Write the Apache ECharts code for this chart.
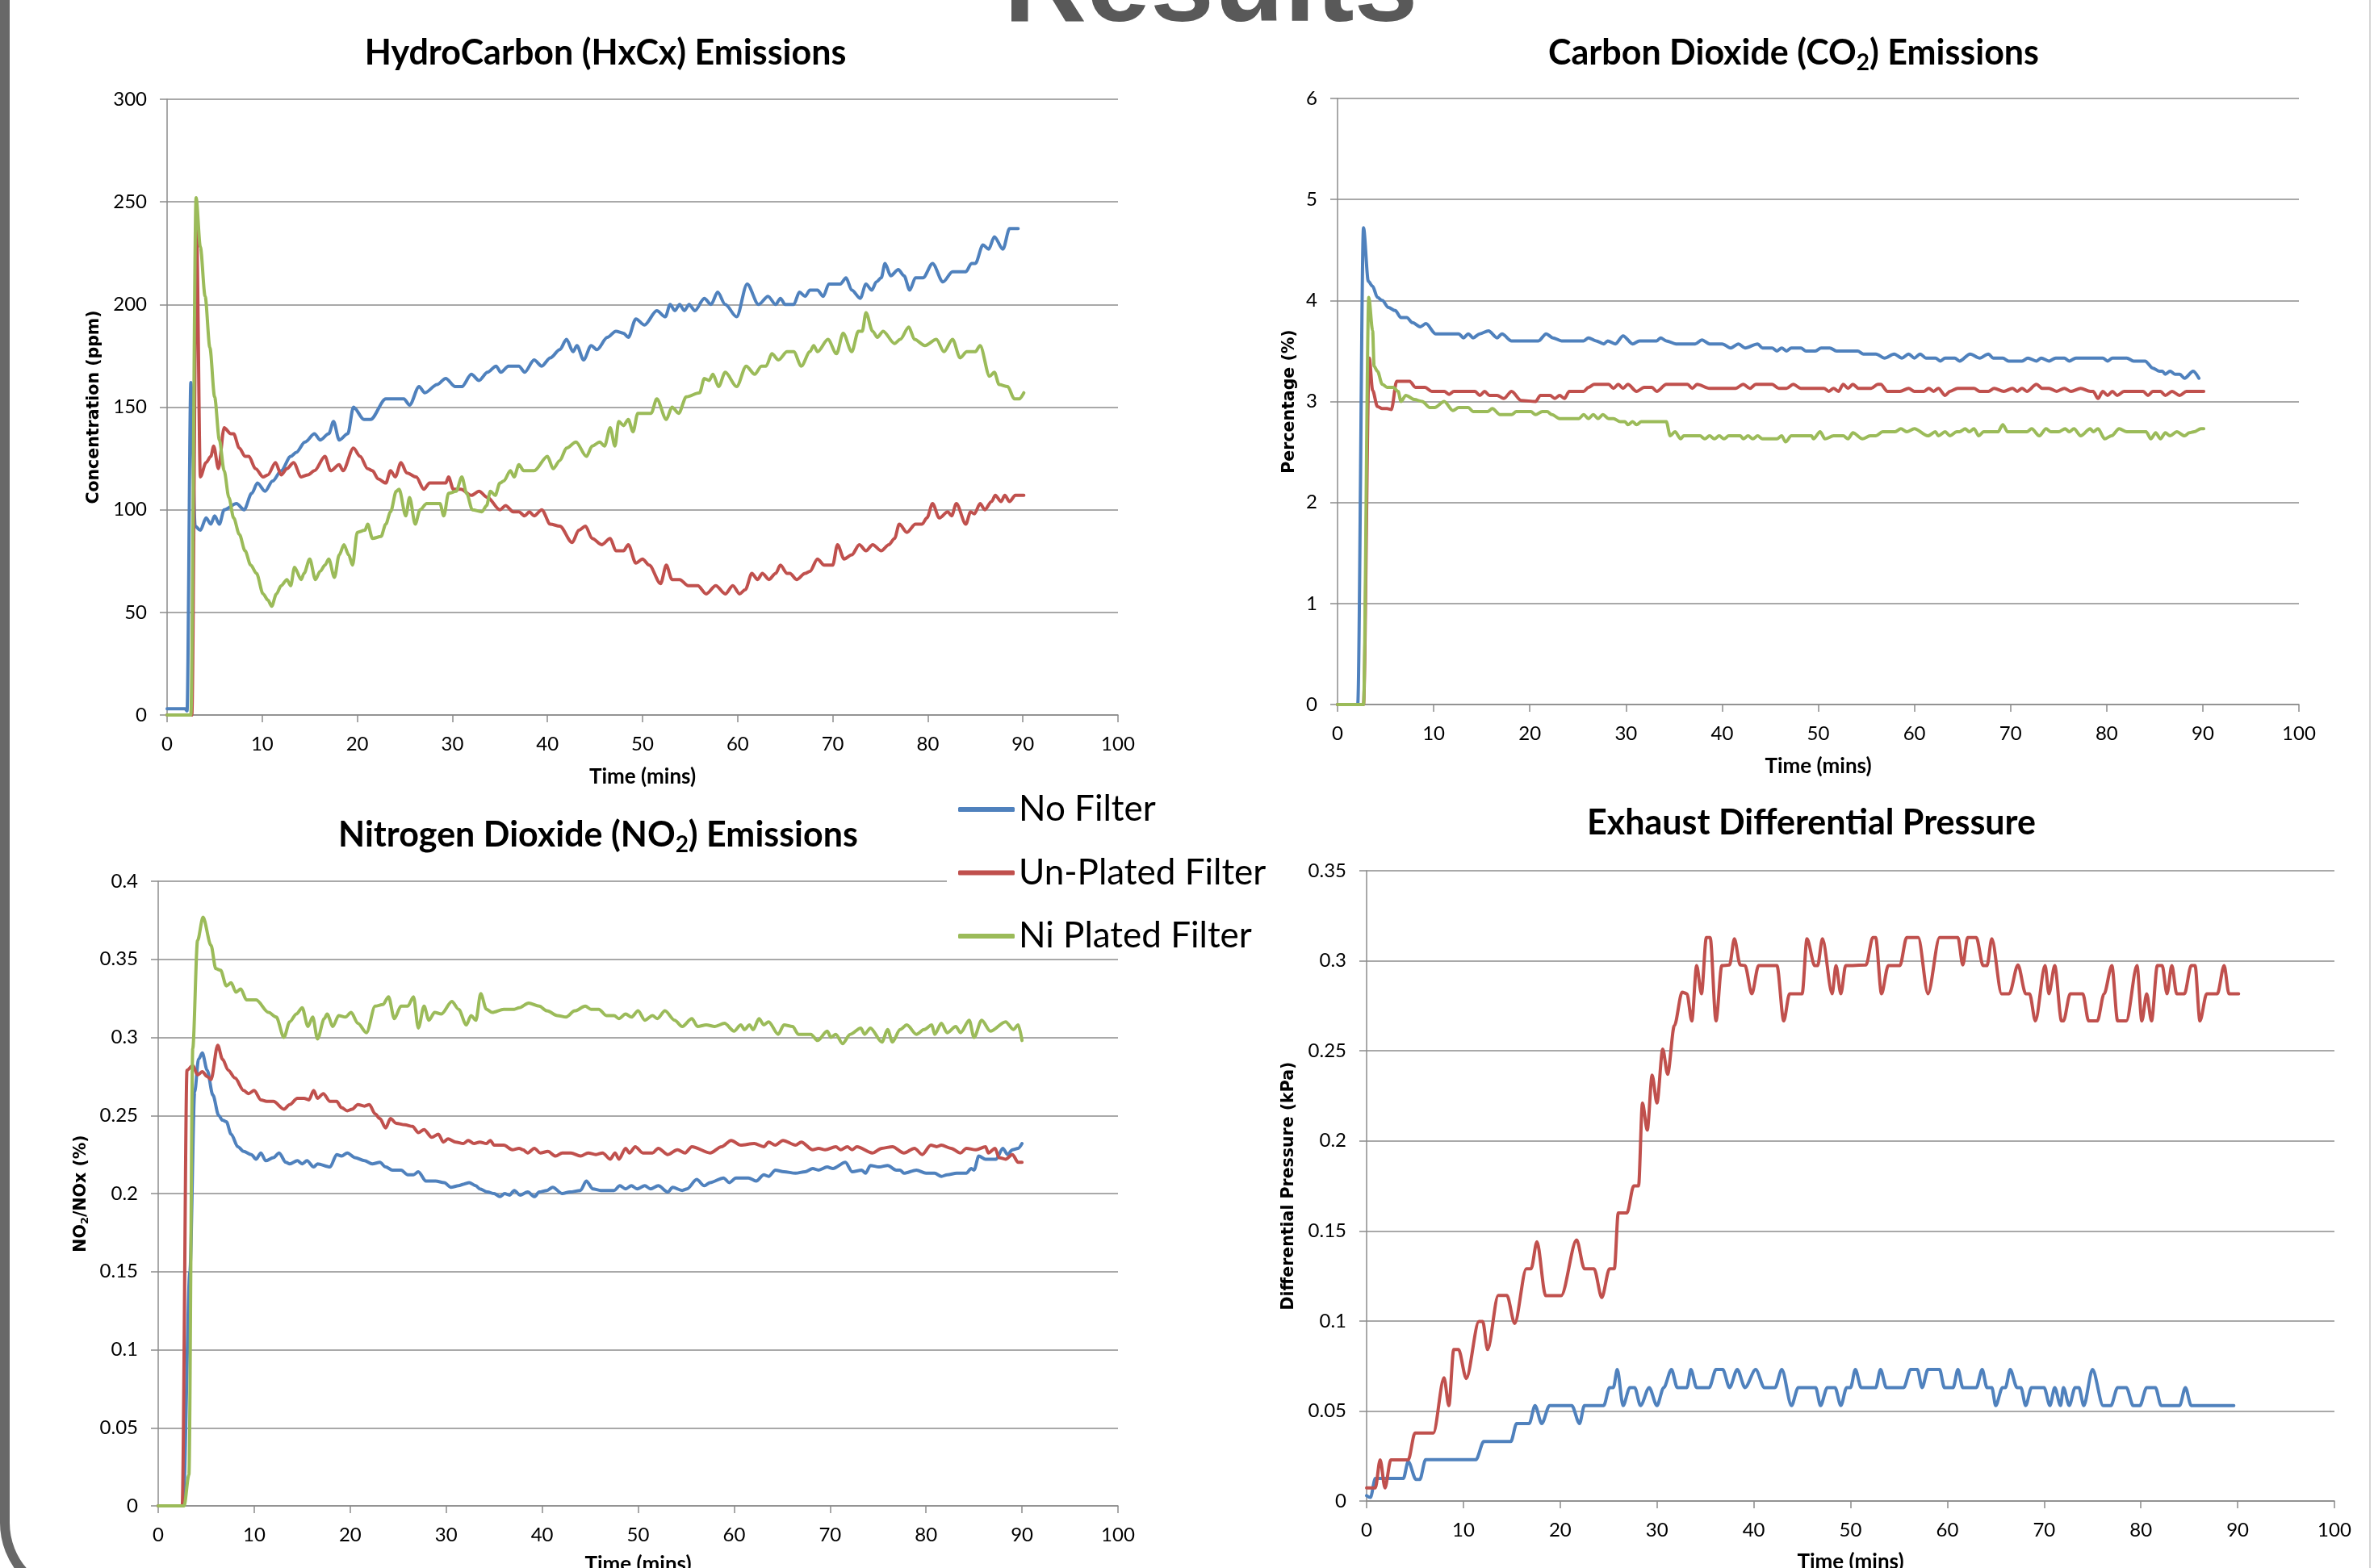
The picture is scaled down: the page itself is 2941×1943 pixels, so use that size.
<!DOCTYPE html>
<html>
<head>
<meta charset="utf-8">
<script src="https://cdn.jsdelivr.net/npm/echarts@6/dist/echarts.min.js"></script>
<style>
html,body{margin:0;padding:0;background:#fff;}
#c{width:2941px;height:1943px;}
</style>
</head>
<body>
<div id="c"></div>
<script>
// ---------- DATA (time in minutes, value) ----------
const seriesNames = ['No Filter', 'Un-Plated Filter', 'Ni Plated Filter'];
const xTicks = [0, 100, 10];           // min, max, interval (Time (mins))
const hcYTicks = [0, 300, 50];
const co2YTicks = [0, 6, 1];
const no2YTicks = [0, 0.4, 0.05];
const dpYTicks = [0, 0.35, 0.05];

const hcNoFilter = [[0,3],[1.9,3],[2.1,2],[2.5,162],[2.95,92],[3.5,90],[4.1,96],[4.6,93],[5.0,97],[5.5,93],[6.0,100],[7.3,103],[8.1,100],[8.9,108],[9.5,113],[10.3,109],[11.1,114],[12.0,119],[13.0,126],[13.6,128],[14.5,133],[15.5,137],[16.1,134],[17.0,137],[17.5,143],[18.1,134],[19.0,137],[19.6,150],[20.7,144],[21.4,144],[23.0,154],[24.9,154],[25.5,151],[26.5,160],[27.1,157],[28.4,161],[29.3,164],[30.3,160],[31.0,160],[32.0,166],[32.8,163],[33.7,167],[34.6,170],[35.1,167],[35.9,170],[37.0,170],[37.6,167],[38.6,173],[39.4,170],[40.3,174],[41.3,178],[42.0,183],[42.7,177],[43.1,180],[43.8,173],[44.6,180],[45.2,178],[46.3,184],[47.2,187],[48.0,186],[48.5,184],[49.3,193],[50.2,190],[51.5,197],[52.4,194],[52.9,200],[53.4,197],[53.9,200],[54.4,197],[54.9,200],[55.5,197],[56.5,203],[57.2,200],[57.9,206],[58.7,200],[59.9,194],[61.0,210],[62.2,200],[63.2,204],[64.0,200],[64.5,203],[65.0,200],[65.9,200],[66.5,206],[67.1,204],[67.6,207],[68.4,207],[69.0,204],[69.6,210],[70.8,210],[71.4,213],[72.0,207],[72.9,203],[73.5,210],[74.1,207],[74.6,211],[75.1,213],[75.5,220],[76.1,214],[76.9,217],[77.5,214],[78.1,207],[78.7,213],[79.5,213],[80.5,220],[81.6,211],[82.6,216],[84.0,216],[84.6,220],[85.0,220],[85.8,229],[86.4,227],[87.0,233],[87.9,227],[88.6,237],[89.5,237]];
const hcUnPlated = [[0,0],[2.6,0],[3.1,236],[3.5,116],[4.1,123],[4.6,126],[4.9,131],[5.4,120],[6.0,140],[6.7,137],[7.0,137],[7.6,130],[8.2,126],[8.6,126],[9.3,120],[10.1,116],[10.6,117],[11.4,123],[12.0,117],[12.6,120],[13.3,123],[14.1,116],[14.8,117],[15.5,119],[16.6,126],[17.2,119],[18.1,122],[18.5,119],[19.6,130],[20.3,126],[21.1,120],[21.6,119],[22.2,115],[23.0,113],[23.5,119],[24.0,116],[24.6,123],[25.2,118],[26.2,116],[27.0,110],[27.6,113],[29.3,113],[29.6,116],[30.1,110],[30.9,110],[32.0,107],[32.8,109],[33.7,106],[35.0,100],[35.6,102],[36.4,99],[37.0,99],[37.6,97],[38.1,99],[38.6,97],[39.4,100],[40.3,93],[41.3,92],[42.6,84],[43.3,90],[44.0,92],[44.7,86],[45.7,83],[46.6,86],[47.2,80],[48.0,80],[48.5,83],[49.3,74],[50.0,76],[50.7,73],[51.9,64],[52.5,73],[53.1,66],[53.9,66],[54.8,63],[55.8,63],[56.7,59],[57.7,63],[58.7,59],[59.5,63],[60.2,59],[60.8,61],[61.5,69],[62.1,66],[62.6,69],[63.3,66],[64.0,69],[64.5,73],[65.2,69],[65.5,69],[66.2,66],[67.1,69],[67.6,70],[68.4,76],[69.1,73],[70.0,73],[70.5,83],[71.2,76],[72.0,78],[72.8,83],[73.5,80],[74.2,83],[75.1,80],[75.9,83],[76.5,86],[77.0,93],[77.8,89],[78.7,93],[79.4,93],[79.9,96],[80.5,103],[81.2,96],[82.1,99],[82.5,97],[83.0,103],[84.0,93],[84.5,99],[84.9,98],[85.5,103],[86.0,100],[86.7,104],[87.1,107],[87.7,104],[88.1,107],[88.6,104],[89.2,107],[90.1,107]];
const hcNiPlated = [[0,0],[2.5,0],[3.05,252],[3.5,228],[4.0,204],[4.5,179],[5.0,155],[5.5,134],[6.0,119],[6.5,106],[7.0,96],[7.6,88],[8.2,80],[8.8,73],[9.4,69],[10.1,59],[10.6,56],[11.0,53],[11.5,59],[12.0,63],[12.6,66],[13.0,63],[13.4,72],[14.1,66],[14.4,69],[15.0,76],[15.6,66],[16.1,70],[16.6,73],[17.0,76],[17.6,67],[18.1,78],[18.6,83],[19.1,78],[19.5,73],[20.0,89],[20.8,90],[21.1,93],[21.6,86],[22.5,87],[23.0,93],[23.5,99],[24.1,109],[24.4,110],[25.1,97],[25.5,106],[26.1,93],[26.6,100],[27.3,103],[28.7,103],[29.1,97],[29.6,108],[30.4,109],[31.0,116],[31.5,108],[32.1,100],[33.1,99],[33.6,102],[34.0,109],[34.5,107],[35.0,113],[35.4,114],[36.1,119],[36.5,116],[37.0,122],[37.5,119],[38.6,119],[40.0,126],[40.6,120],[41.3,124],[42.0,130],[43.0,133],[44.1,126],[44.7,131],[45.5,133],[46.0,131],[46.6,140],[47.1,131],[47.5,143],[48.0,141],[48.5,144],[49.0,138],[49.5,147],[50.9,147],[51.5,154],[52.5,144],[53.1,150],[53.8,147],[54.6,155],[56.0,157],[56.5,164],[57.0,163],[57.4,166],[58.0,160],[58.7,167],[59.9,160],[60.9,170],[61.8,166],[62.5,170],[63.0,170],[63.6,176],[64.3,173],[65.2,177],[65.9,177],[66.7,170],[67.6,177],[68.0,180],[68.4,177],[69.5,183],[70.4,176],[71.1,186],[72.0,177],[72.7,187],[73.1,187],[73.5,196],[74.2,187],[74.7,184],[75.3,187],[76.5,181],[77.1,183],[78.0,189],[78.6,183],[79.7,180],[80.9,183],[81.7,177],[82.6,183],[83.4,174],[84.1,177],[85.0,177],[85.5,180],[86.5,165],[87.0,167],[87.5,161],[88.4,160],[89.1,154],[89.6,154],[90.1,157]];

const co2NoFilter = [[0,0],[2.1,0],[2.7,4.72],[3.2,4.19],[3.65,4.14],[4.15,4.03],[4.65,4.0],[5.3,3.93],[6.0,3.9],[6.6,3.83],[7.2,3.83],[7.8,3.78],[8.6,3.74],[9.2,3.77],[10.2,3.67],[12.6,3.67],[13.1,3.63],[13.6,3.67],[14.1,3.63],[14.8,3.67],[15.7,3.7],[16.6,3.63],[17.1,3.67],[18.1,3.6],[20.9,3.6],[21.7,3.67],[22.4,3.63],[23.3,3.6],[25.6,3.6],[26.1,3.63],[26.9,3.6],[27.7,3.57],[28.1,3.6],[28.9,3.57],[29.7,3.65],[30.7,3.57],[31.4,3.6],[33.2,3.6],[33.6,3.63],[34.2,3.6],[35.2,3.57],[37.2,3.57],[37.9,3.61],[38.7,3.57],[40.0,3.57],[40.9,3.53],[41.7,3.57],[42.4,3.53],[43.7,3.57],[44.2,3.53],[45.2,3.53],[45.7,3.5],[46.2,3.53],[46.7,3.5],[47.2,3.53],[48.2,3.53],[48.7,3.5],[49.7,3.5],[50.3,3.53],[51.2,3.53],[51.9,3.5],[54.1,3.5],[54.7,3.47],[56.0,3.47],[56.9,3.43],[57.9,3.47],[58.7,3.43],[59.4,3.47],[60.0,3.43],[60.6,3.47],[61.2,3.43],[62.2,3.43],[62.7,3.4],[63.2,3.43],[64.2,3.43],[64.7,3.4],[65.8,3.47],[66.8,3.43],[67.7,3.47],[68.2,3.43],[69.2,3.43],[69.8,3.4],[71.2,3.4],[71.8,3.43],[72.7,3.4],[73.2,3.43],[74.0,3.4],[74.7,3.43],[75.6,3.43],[76.1,3.4],[76.8,3.43],[79.6,3.43],[80.1,3.4],[80.6,3.43],[82.1,3.43],[82.8,3.4],[84.0,3.4],[84.8,3.33],[85.5,3.3],[85.8,3.3],[86.1,3.27],[86.6,3.3],[87.1,3.27],[87.6,3.27],[88.1,3.23],[89.0,3.3],[89.6,3.23]];
const co2UnPlated = [[0,0],[2.7,0],[3.3,3.43],[3.65,3.11],[4.15,2.95],[4.65,2.93],[5.15,2.93],[5.6,2.92],[6.15,3.2],[7.5,3.2],[8.1,3.14],[9.1,3.14],[9.8,3.1],[11.1,3.1],[11.6,3.07],[12.1,3.1],[14.3,3.1],[14.8,3.06],[15.3,3.1],[15.8,3.06],[16.6,3.06],[17.3,3.03],[18.1,3.1],[19.1,3.01],[20.6,3.0],[21.1,3.06],[22.1,3.06],[22.6,3.03],[23.1,3.06],[23.6,3.03],[24.1,3.1],[25.6,3.1],[26.1,3.14],[26.7,3.17],[28.2,3.17],[28.7,3.13],[29.2,3.17],[29.7,3.13],[30.2,3.17],[31.1,3.1],[31.9,3.14],[32.7,3.14],[33.2,3.1],[34.2,3.17],[36.4,3.17],[36.9,3.13],[37.4,3.17],[38.7,3.13],[41.4,3.13],[42.2,3.17],[42.9,3.13],[43.5,3.17],[45.2,3.17],[45.9,3.13],[46.7,3.13],[47.4,3.17],[48.2,3.13],[50.6,3.13],[51.1,3.1],[51.6,3.13],[52.1,3.1],[52.6,3.17],[53.1,3.13],[53.6,3.17],[54.2,3.13],[55.5,3.13],[56.2,3.17],[56.5,3.17],[57.2,3.1],[58.5,3.1],[59.4,3.13],[60.0,3.1],[61.0,3.1],[61.5,3.13],[62.0,3.1],[62.5,3.13],[63.2,3.06],[63.7,3.1],[64.5,3.13],[66.2,3.13],[66.8,3.1],[67.7,3.1],[68.3,3.13],[69.3,3.1],[70.2,3.13],[70.7,3.1],[71.2,3.13],[71.7,3.1],[72.7,3.17],[73.3,3.13],[74.0,3.13],[74.8,3.1],[75.6,3.13],[76.3,3.1],[77.3,3.13],[78.3,3.1],[78.6,3.1],[79.1,3.03],[79.6,3.1],[80.1,3.06],[80.6,3.1],[81.1,3.06],[81.8,3.1],[83.8,3.1],[84.3,3.06],[84.8,3.1],[85.6,3.1],[86.1,3.06],[86.8,3.1],[87.6,3.06],[88.3,3.1],[90.1,3.1]];
const co2NiPlated = [[0,0],[2.7,0],[3.25,4.03],[3.65,3.7],[3.8,3.35],[4.15,3.3],[4.65,3.17],[5.15,3.14],[5.8,3.14],[6.3,3.1],[6.6,3.0],[7.1,3.06],[8.0,3.02],[8.8,3.0],[9.6,2.94],[10.1,2.94],[11.1,3.0],[12.0,2.91],[12.6,2.94],[13.6,2.94],[14.1,2.9],[15.6,2.9],[16.1,2.93],[16.9,2.87],[18.1,2.87],[18.6,2.9],[20.1,2.9],[20.6,2.87],[21.3,2.9],[21.8,2.9],[22.3,2.87],[23.1,2.83],[25.1,2.83],[25.6,2.87],[26.1,2.83],[26.6,2.87],[27.1,2.83],[27.6,2.87],[28.2,2.83],[28.7,2.83],[29.4,2.8],[29.9,2.8],[30.2,2.77],[30.7,2.8],[31.1,2.77],[31.6,2.8],[34.2,2.8],[34.6,2.66],[35.1,2.7],[35.7,2.63],[36.0,2.66],[37.7,2.66],[38.2,2.63],[38.7,2.66],[39.2,2.63],[39.7,2.66],[40.2,2.63],[40.7,2.66],[41.9,2.66],[42.2,2.63],[42.7,2.66],[43.2,2.63],[43.7,2.66],[44.2,2.63],[45.7,2.63],[46.2,2.66],[46.6,2.6],[47.2,2.66],[49.3,2.66],[49.5,2.63],[50.2,2.7],[50.7,2.63],[51.6,2.66],[52.6,2.66],[53.1,2.63],[53.6,2.69],[54.6,2.63],[55.4,2.66],[56.0,2.66],[56.7,2.7],[58.0,2.7],[58.6,2.73],[59.2,2.7],[60.0,2.73],[61.4,2.66],[62.2,2.7],[62.5,2.66],[63.2,2.7],[63.7,2.66],[64.4,2.7],[64.7,2.7],[65.3,2.73],[65.7,2.7],[66.2,2.73],[66.7,2.66],[67.2,2.7],[68.7,2.7],[69.2,2.77],[69.7,2.7],[71.7,2.7],[72.2,2.73],[73.0,2.66],[73.7,2.73],[74.2,2.7],[75.0,2.7],[75.7,2.73],[76.1,2.7],[76.6,2.73],[77.3,2.66],[78.3,2.73],[78.6,2.7],[79.1,2.73],[79.8,2.63],[80.5,2.66],[81.3,2.73],[82.1,2.7],[84.1,2.7],[84.6,2.63],[85.1,2.69],[85.6,2.63],[86.1,2.69],[86.6,2.66],[87.3,2.7],[88.1,2.66],[88.6,2.69],[89.1,2.7],[89.8,2.73],[90.1,2.73]];

const no2NoFilter = [[0,0],[2.6,0],[3.3,0.15],[3.8,0.265],[4.2,0.286],[4.6,0.29],[5.1,0.279],[5.7,0.263],[6.3,0.25],[6.7,0.247],[7.1,0.246],[7.6,0.238],[8.3,0.23],[8.9,0.227],[9.7,0.225],[10.2,0.222],[10.7,0.226],[11.2,0.221],[12.0,0.223],[12.6,0.226],[13.3,0.22],[13.7,0.219],[14.5,0.221],[15.0,0.219],[15.5,0.221],[16.2,0.217],[16.6,0.219],[17.9,0.217],[18.6,0.225],[19.1,0.224],[19.7,0.226],[20.5,0.223],[21.5,0.221],[22.3,0.219],[23.1,0.22],[23.7,0.217],[24.4,0.215],[25.3,0.215],[26.0,0.212],[26.6,0.212],[27.1,0.214],[27.9,0.208],[28.9,0.208],[29.8,0.207],[30.5,0.204],[31.3,0.205],[31.8,0.206],[32.4,0.207],[33.1,0.205],[33.5,0.203],[34.3,0.201],[35.0,0.2],[35.6,0.198],[36.1,0.2],[36.6,0.199],[37.1,0.202],[37.7,0.199],[38.5,0.201],[39.2,0.198],[39.7,0.201],[40.5,0.202],[41.1,0.204],[42.1,0.2],[42.9,0.201],[44.0,0.202],[44.6,0.208],[45.3,0.203],[46.1,0.202],[47.5,0.202],[48.1,0.205],[48.7,0.203],[49.3,0.205],[49.9,0.203],[50.7,0.205],[51.3,0.203],[52.1,0.205],[53.1,0.201],[53.6,0.204],[54.6,0.202],[55.1,0.203],[56.1,0.209],[56.9,0.205],[57.5,0.207],[58.9,0.21],[59.5,0.207],[60.2,0.21],[61.5,0.21],[62.3,0.208],[63.1,0.212],[63.6,0.211],[64.3,0.215],[65.2,0.214],[66.4,0.213],[67.4,0.214],[68.2,0.216],[68.8,0.215],[69.7,0.217],[70.3,0.216],[71.6,0.22],[72.3,0.214],[73.3,0.215],[73.7,0.213],[74.2,0.218],[75.1,0.217],[76.0,0.218],[76.9,0.215],[77.3,0.215],[77.7,0.213],[79.0,0.215],[80.0,0.213],[80.9,0.213],[81.6,0.211],[82.2,0.212],[83.2,0.213],[84.2,0.213],[84.7,0.216],[85.0,0.215],[85.5,0.224],[86.2,0.222],[86.8,0.222],[87.3,0.222],[88.0,0.229],[88.5,0.225],[89.0,0.228],[89.6,0.229],[90.0,0.232]];
const no2UnPlated = [[0,0],[2.5,0],[3.0,0.279],[3.6,0.282],[4.1,0.276],[4.6,0.278],[5.1,0.275],[5.5,0.273],[6.2,0.295],[6.7,0.286],[7.3,0.279],[8.0,0.274],[8.9,0.266],[9.4,0.264],[10.0,0.266],[10.7,0.26],[11.3,0.259],[12.0,0.259],[13.1,0.254],[13.7,0.257],[14.5,0.261],[15.2,0.261],[15.7,0.26],[16.2,0.266],[16.6,0.261],[17.2,0.264],[17.9,0.259],[18.6,0.259],[19.1,0.255],[19.7,0.253],[20.2,0.254],[20.8,0.257],[21.5,0.256],[22.0,0.257],[22.6,0.251],[23.1,0.248],[23.7,0.242],[24.2,0.248],[24.8,0.245],[25.7,0.244],[26.5,0.243],[27.1,0.239],[27.7,0.241],[28.5,0.236],[29.2,0.238],[29.7,0.233],[30.2,0.235],[31.0,0.233],[31.8,0.232],[32.3,0.234],[32.9,0.232],[33.5,0.233],[34.2,0.232],[34.6,0.234],[35.0,0.231],[36.0,0.231],[36.9,0.228],[37.6,0.229],[38.0,0.228],[38.5,0.226],[39.2,0.229],[39.8,0.226],[40.6,0.227],[41.4,0.224],[42.1,0.226],[43.0,0.226],[44.0,0.224],[44.8,0.226],[45.6,0.225],[46.3,0.226],[47.1,0.222],[47.6,0.226],[48.0,0.222],[48.7,0.229],[49.1,0.226],[49.7,0.23],[50.5,0.226],[51.5,0.226],[52.1,0.229],[53.1,0.225],[54.1,0.228],[54.9,0.226],[55.6,0.23],[57.5,0.226],[58.7,0.23],[59.7,0.234],[60.7,0.231],[62.1,0.232],[63.1,0.23],[63.6,0.233],[64.3,0.231],[65.1,0.234],[66.4,0.231],[67.0,0.233],[68.2,0.228],[68.8,0.229],[69.5,0.228],[70.6,0.23],[71.1,0.228],[71.8,0.23],[72.3,0.228],[72.8,0.23],[74.4,0.226],[75.4,0.229],[76.5,0.23],[77.7,0.226],[78.8,0.229],[79.6,0.225],[80.5,0.231],[81.1,0.23],[81.6,0.231],[82.6,0.229],[83.6,0.226],[84.2,0.229],[85.2,0.228],[86.2,0.23],[86.5,0.226],[87.2,0.229],[87.6,0.223],[88.3,0.222],[89.0,0.225],[89.6,0.22],[90.0,0.22]];
const no2NiPlated = [[0,0],[2.7,0],[3.2,0.02],[3.6,0.293],[4.1,0.362],[4.67,0.377],[5.5,0.359],[6.0,0.344],[6.5,0.343],[7.1,0.333],[7.6,0.335],[8.1,0.329],[8.6,0.331],[9.2,0.324],[10.2,0.324],[11.5,0.316],[12.3,0.313],[13.1,0.3],[13.7,0.31],[14.4,0.315],[15.0,0.319],[15.6,0.307],[16.1,0.313],[16.6,0.299],[17.3,0.312],[17.6,0.315],[18.2,0.307],[18.8,0.314],[19.5,0.313],[20.1,0.316],[20.8,0.309],[21.7,0.303],[22.6,0.32],[23.4,0.321],[24.0,0.326],[24.6,0.312],[25.3,0.32],[26.0,0.32],[26.6,0.326],[27.1,0.306],[27.7,0.32],[28.2,0.311],[28.8,0.316],[29.5,0.315],[30.6,0.323],[31.3,0.318],[32.1,0.308],[32.6,0.314],[33.1,0.311],[33.6,0.328],[34.2,0.318],[34.8,0.316],[36.0,0.318],[37.1,0.318],[37.6,0.319],[38.6,0.322],[39.7,0.32],[40.5,0.317],[41.6,0.314],[42.5,0.313],[43.4,0.317],[44.5,0.32],[45.1,0.318],[45.9,0.318],[46.7,0.314],[47.5,0.314],[48.0,0.312],[48.7,0.315],[49.3,0.313],[50.0,0.317],[50.7,0.311],[51.5,0.314],[52.0,0.312],[52.8,0.317],[53.8,0.311],[54.6,0.307],[55.6,0.312],[56.2,0.307],[57.1,0.308],[58.0,0.307],[59.0,0.309],[60.0,0.304],[60.7,0.308],[61.1,0.305],[61.6,0.308],[62.0,0.305],[62.6,0.312],[63.1,0.308],[63.6,0.31],[64.6,0.302],[65.2,0.308],[66.1,0.307],[66.7,0.302],[67.4,0.302],[68.0,0.302],[68.7,0.298],[69.7,0.304],[70.1,0.3],[70.6,0.302],[71.3,0.296],[72.1,0.302],[73.2,0.306],[73.6,0.302],[74.2,0.306],[75.4,0.297],[76.0,0.305],[76.5,0.297],[77.3,0.305],[78.0,0.308],[79.0,0.302],[79.8,0.305],[80.6,0.308],[80.9,0.302],[81.6,0.309],[82.2,0.303],[83.1,0.307],[83.6,0.303],[84.5,0.311],[85.0,0.3],[85.8,0.311],[86.7,0.304],[88.3,0.31],[89.1,0.305],[89.6,0.308],[90.0,0.298]];

const dpNoFilter = [[0,0.003],[0.4,0.002],[0.9,0.0125],[3.8,0.0125],[4.3,0.022],[5.1,0.012],[5.5,0.012],[6.1,0.023],[11.3,0.023],[12.1,0.033],[14.9,0.033],[15.5,0.043],[16.8,0.043],[17.4,0.053],[18.1,0.043],[18.9,0.053],[21.2,0.053],[22.0,0.043],[22.5,0.053],[24.5,0.053],[25.1,0.063],[25.5,0.063],[25.9,0.073],[26.5,0.053],[27.2,0.063],[27.7,0.063],[28.3,0.053],[29.2,0.063],[30.0,0.053],[30.7,0.063],[31.5,0.073],[32.1,0.063],[33.1,0.063],[33.5,0.073],[34.1,0.063],[35.4,0.063],[36.1,0.073],[36.8,0.073],[37.5,0.063],[38.3,0.073],[39.1,0.063],[40.2,0.073],[41.1,0.063],[42.2,0.063],[42.9,0.073],[43.9,0.053],[44.6,0.063],[46.4,0.063],[46.9,0.053],[47.6,0.063],[48.4,0.063],[49.0,0.053],[49.6,0.063],[50.0,0.063],[50.5,0.073],[51.1,0.063],[52.6,0.063],[53.1,0.073],[53.7,0.063],[55.5,0.063],[56.2,0.073],[56.9,0.073],[57.4,0.063],[58.0,0.073],[59.2,0.073],[59.7,0.063],[60.6,0.063],[61.1,0.073],[61.6,0.063],[63.0,0.063],[63.6,0.073],[64.1,0.063],[64.6,0.063],[65.0,0.053],[65.7,0.063],[66.0,0.063],[66.5,0.073],[67.2,0.063],[67.6,0.063],[68.1,0.053],[68.7,0.063],[70.0,0.063],[70.6,0.053],[71.1,0.063],[71.7,0.053],[72.0,0.063],[72.6,0.053],[73.2,0.063],[73.6,0.063],[74.1,0.053],[75.0,0.073],[76.1,0.053],[76.9,0.053],[77.6,0.063],[78.5,0.063],[79.2,0.053],[79.9,0.053],[80.6,0.063],[81.5,0.063],[82.1,0.053],[84.0,0.053],[84.6,0.063],[85.2,0.053],[89.6,0.053]];
const dpUnPlated = [[0,0.0073],[0.9,0.0073],[1.4,0.0229],[1.9,0.0073],[2.5,0.0229],[4.3,0.0229],[5.0,0.0378],[6.9,0.0378],[8.0,0.0685],[8.5,0.053],[9.0,0.0841],[9.5,0.0841],[10.3,0.068],[11.6,0.0997],[12.0,0.0997],[12.5,0.0841],[13.6,0.1142],[14.5,0.1142],[15.3,0.0986],[16.5,0.129],[17.0,0.129],[17.6,0.144],[18.5,0.114],[20.1,0.114],[21.7,0.145],[22.5,0.129],[23.5,0.129],[24.3,0.113],[25.1,0.129],[25.6,0.129],[26.0,0.16],[26.9,0.16],[27.6,0.175],[28.1,0.175],[28.5,0.221],[29.0,0.206],[29.5,0.2365],[30.0,0.221],[30.6,0.251],[31.1,0.237],[31.8,0.264],[32.6,0.2826],[33.1,0.2817],[33.6,0.2666],[34.1,0.2973],[34.6,0.2817],[35.1,0.3129],[35.5,0.3129],[36.1,0.2666],[36.7,0.2973],[37.5,0.2977],[38.0,0.3122],[38.6,0.2977],[39.1,0.2973],[39.8,0.2817],[40.5,0.2973],[42.4,0.2973],[43.1,0.2666],[43.7,0.2817],[45.0,0.2817],[45.5,0.3122],[46.3,0.2973],[46.6,0.2973],[47.1,0.3122],[48.1,0.2817],[48.5,0.2973],[49.0,0.2817],[49.5,0.2973],[51.6,0.2977],[52.3,0.3129],[52.6,0.3129],[53.2,0.2817],[53.9,0.2973],[55.1,0.2973],[55.8,0.3129],[57.0,0.3129],[58.0,0.2817],[59.2,0.3129],[61.1,0.3129],[61.6,0.2977],[62.1,0.3129],[63.0,0.3129],[63.7,0.2973],[64.1,0.2973],[64.6,0.3122],[65.6,0.2817],[66.4,0.2817],[67.3,0.2977],[68.1,0.2817],[68.5,0.2817],[69.1,0.2666],[70.1,0.2973],[70.5,0.2817],[71.1,0.2973],[71.8,0.2666],[72.0,0.2666],[72.7,0.2817],[74.0,0.2817],[74.6,0.2666],[75.5,0.2666],[76.2,0.2817],[77.0,0.2973],[77.6,0.2666],[78.5,0.2666],[79.6,0.2973],[80.1,0.2666],[80.6,0.2817],[81.1,0.2666],[81.7,0.2973],[82.2,0.2973],[82.7,0.2817],[83.2,0.2973],[83.7,0.2817],[84.5,0.2817],[85.2,0.2973],[85.6,0.2973],[86.1,0.2666],[86.8,0.2817],[87.9,0.2817],[88.6,0.2973],[89.1,0.2817],[90.1,0.2817]];

// ---------- STYLE ----------
const COLORS = ['#4F81BD', '#C0504D', '#9BBB59'];
const GRID_COLOR = '#8c8c8c';
const LABEL_FONT = 'Lato';
const YNAME_FONT = 'DejaVu Sans';

const panels = [
  { title: 'HydroCarbon (HxCx) Emissions', tx: 750, ty: 41,
    grid: {left: 207, top: 123, width: 1178, height: 763},
    y: hcYTicks, yName: 'Concentration (ppm)', yGap: 80, xGap: 64,
    data: [hcNoFilter, hcUnPlated, hcNiPlated] },
  { title: 'Carbon Dioxide (CO{s|2}) Emissions', tx: 2222, ty: 41,
    grid: {left: 1657, top: 122, width: 1191, height: 751},
    y: co2YTicks, yName: 'Percentage (%)', yGap: 49, xGap: 64,
    data: [co2NoFilter, co2UnPlated, co2NiPlated] },
  { title: 'Nitrogen Dioxide (NO{s|2}) Emissions', tx: 741, ty: 1010,
    grid: {left: 196, top: 1092, width: 1189, height: 774},
    y: no2YTicks, yName: 'NO{s|2}/NOx (%)', yGap: 85, xGap: 60,
    data: [no2NoFilter, no2UnPlated, no2NiPlated] },
  { title: 'Exhaust Differential Pressure', tx: 2244, ty: 995,
    grid: {left: 1693, top: 1079, width: 1199, height: 781},
    y: dpYTicks, yName: 'Differential Pressure (kPa)', yGap: 86, xGap: 63,
    data: [dpNoFilter, dpUnPlated] }
];

const option = {
  animation: false,
  backgroundColor: '#fff',
  title: [], grid: [], xAxis: [], yAxis: [], series: [],
  legend: {
    orient: 'vertical', left: 1173, top: 981,
    padding: [0, 6, 0, 14], itemWidth: 70, itemHeight: 6, itemGap: 34.5,
    icon: 'roundRect', backgroundColor: '#fff', z: 10,
    textStyle: {fontFamily: LABEL_FONT, fontSize: 44, lineHeight: 40, color: '#000'},
    data: seriesNames
  },
  graphic: [
    {type: 'text', z: 100, style: {text: 'Results', x: 1500, y: -13, align: 'center', verticalAlign: 'middle',
      font: 'bold 142px "Liberation Sans", Arial, sans-serif', fill: '#595959'}},
    {type: 'rect', z: 100, shape: {x: 6, y: -300, width: 3200, height: 2279, r: 92},
      style: {fill: null, stroke: '#686868', lineWidth: 12}},
    {type: 'line', z: 100, shape: {x1: 2936, y1: 0, x2: 2936, y2: 1943},
      style: {stroke: '#d6d6d6', lineWidth: 2}}
  ]
};

panels.forEach((p, i) => {
  option.title.push({
    text: p.title, left: p.tx, top: p.ty, textAlign: 'center', padding: 0,
    textStyle: {fontFamily: LABEL_FONT, fontWeight: 'bold', fontSize: 43, lineHeight: 50, color: '#000',
      rich: {s: {fontFamily: LABEL_FONT, fontWeight: 'bold', fontSize: 28, lineHeight: 26, padding: [24, 0, 0, 0], color: '#000'}}}
  });
  option.grid.push(Object.assign({containLabel: false, outerBoundsMode: 'none'}, p.grid));
  option.xAxis.push({
    type: 'value', gridIndex: i, min: xTicks[0], max: xTicks[1], interval: xTicks[2],
    name: 'Time (mins)', nameLocation: 'middle', nameGap: p.xGap,
    nameTextStyle: {fontFamily: LABEL_FONT, fontWeight: 'bold', fontSize: 26, color: '#000'},
    axisLine: {show: true, onZero: false, lineStyle: {color: GRID_COLOR, width: 1.5}},
    axisTick: {show: true, length: 9, lineStyle: {color: GRID_COLOR, width: 1.5}},
    axisLabel: {fontFamily: LABEL_FONT, fontSize: 24, color: '#000', margin: 24},
    splitLine: {show: false}
  });
  option.yAxis.push({
    type: 'value', gridIndex: i, min: p.y[0], max: p.y[1], interval: p.y[2],
    name: p.yName, nameLocation: 'middle', nameGap: p.yGap, nameRotate: 90,
    nameTextStyle: {fontFamily: YNAME_FONT, fontWeight: 'bold', fontSize: 20.5, color: '#000',
      rich: {s: {fontFamily: YNAME_FONT, fontWeight: 'bold', fontSize: 13, lineHeight: 13, padding: [11, 0, 0, 0], color: '#000'}}},
    axisLine: {show: true, lineStyle: {color: GRID_COLOR, width: 1.5}},
    axisTick: {show: true, length: 9, lineStyle: {color: GRID_COLOR, width: 1.5}},
    axisLabel: {fontFamily: LABEL_FONT, fontSize: 24, color: '#000', margin: 25},
    splitLine: {show: true, lineStyle: {color: GRID_COLOR, width: 1.5}}
  });
  p.data.forEach((d, k) => {
    option.series.push({
      type: 'line', name: seriesNames[k], xAxisIndex: i, yAxisIndex: i, data: d,
      showSymbol: false, symbol: 'none', smooth: 0.3, smoothMonotone: 'x',
      color: COLORS[k],
      lineStyle: {color: COLORS[k], width: 4, cap: 'round', join: 'round'},
      z: 2 + k
    });
  });
});

const chart = echarts.init(document.getElementById('c'), null, {renderer: 'canvas', width: 2941, height: 1943});
chart.setOption(option);
</script>
</body>
</html>
